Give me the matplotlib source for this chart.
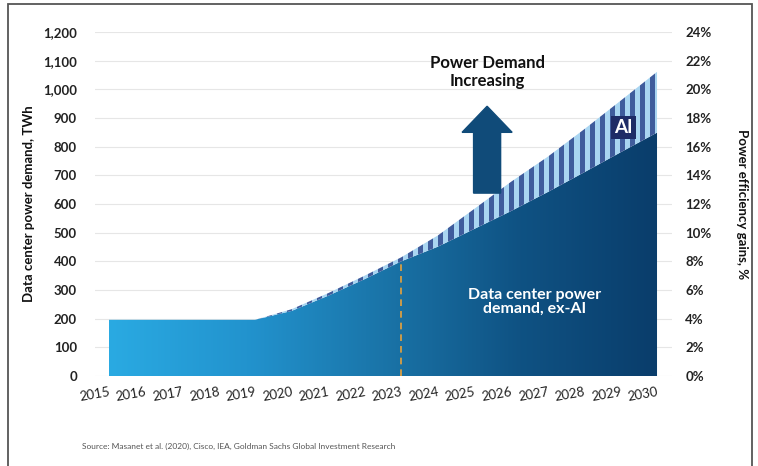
import numpy as np
import matplotlib
matplotlib.use("Agg")
import matplotlib.pyplot as plt
from matplotlib.colors import LinearSegmentedColormap, ListedColormap
from matplotlib.patches import Rectangle, FancyArrow

years = [2015, 2016, 2017, 2018, 2019, 2020, 2021, 2022,
         2023, 2024, 2025, 2026, 2027, 2028, 2029, 2030]
ex_ai = [196, 196, 196, 196, 196, 227, 280, 338,
         400, 451, 513, 575, 641, 710, 780, 849]
ai = [0, 0, 0, 0, 0, 6, 9, 12,
      14, 39, 70, 102, 123, 150, 180, 212]
left_ticks = [0, 100, 200, 300, 400, 500, 600, 700, 800, 900, 1000, 1100, 1200]
right_ticks = [0, 2, 4, 6, 8, 10, 12, 14, 16, 18, 20, 22, 24]
marker_year = 2023

plt.rcParams['font.family'] = ['Lato', 'DejaVu Sans']

W, H = 758, 466
fig = plt.figure(figsize=(W / 100, H / 100), dpi=100)
ax = fig.add_axes([95 / W, 1 - 376 / H, 577 / W, 344 / H])

x = np.array(years, dtype=float)
base = np.array(ex_ai, dtype=float)
total = base + np.array(ai, dtype=float)

ax.set_xlim(2014.62, 2030.41)
ax.set_ylim(0, 1200)
ax.set_axisbelow(True)
ax.yaxis.grid(True, color='#e6e6e6', lw=0.8, zorder=0)
ax.xaxis.grid(False)
for s in ax.spines.values():
    s.set_visible(False)

# gradient ex-AI area
grad_cmap = LinearSegmentedColormap.from_list(
    'g', ['#2AAAE2', '#2293CE', '#1A74A8', '#0F5283', '#0A3D6B'])
poly1 = ax.fill_between(x, 0, base, facecolor='none', edgecolor='none', zorder=2)
gimg = ax.imshow(np.linspace(0, 1, 256).reshape(1, -1), cmap=grad_cmap,
                 extent=[x[0], x[-1], 0, 1200], aspect='auto', zorder=2,
                 interpolation='bilinear')
gimg.set_clip_path(poly1.get_paths()[0], transform=ax.transData)

# striped AI area
poly2 = ax.fill_between(x, base, total, facecolor='none',
                        edgecolor='none', zorder=3)
period_px = 10.0
yr_px = 577 / (2030.41 - 2014.62)
n = int((x[-1] - x[0] + 1) * yr_px / (period_px / 2))
stripes = (np.arange(n) % 2).reshape(1, -1)
simg = ax.imshow(stripes, cmap=ListedColormap(['#A9D5F1', '#3F5C9C']),
                 extent=[x[0] - 0.5, x[-1] + 0.5, 0, 1200], aspect='auto',
                 zorder=3, interpolation='nearest')
simg.set_clip_path(poly2.get_paths()[0], transform=ax.transData)

# dashed marker line
mi = years.index(marker_year)
ax.plot([marker_year, marker_year], [0, ex_ai[mi]], color='#E9A23B',
        lw=1.2, ls=(0, (4, 3)), zorder=4)

# arrow
ax.add_patch(FancyArrow(2025.35, 638, 0, 303, width=0.74, head_width=1.37,
                        head_length=91, length_includes_head=True,
                        color='#104B79', zorder=5))
ax.text(2025.35, 1060, 'Power Demand\nIncreasing', ha='center', va='center',
        fontsize=12, fontweight='bold', color='#111111', linespacing=1.2)

ax.text(2029.08, 867, 'AI', ha='center', va='center', fontsize=13.5,
        fontweight='bold', color='white', zorder=6,
        bbox=dict(boxstyle='square,pad=0.18', fc='#1E2B66', ec='none'))
ax.text(2026.65, 258, 'Data center power\ndemand, ex-AI', ha='center',
        va='center', fontsize=11.5, fontweight='bold', color='white',
        linespacing=0.95, zorder=6)

# axes ticks
ax.set_xticks(years)
ax.set_xticklabels([str(y) for y in years], rotation=10, ha='right',
                   rotation_mode='anchor', fontsize=9.5, color='#222222')
ax.set_yticks(left_ticks)
ax.set_yticklabels([f'{v:,}' for v in left_ticks], fontsize=9.5,
                   fontweight='bold', color='#222222')
ax.tick_params(axis='both', length=0)
ax.tick_params(axis='x', pad=7)
ax.tick_params(axis='y', pad=13)
ax.set_ylabel('Data center power demand, TWh', fontsize=9.5, fontweight='bold',
              color='#111111', labelpad=6)

ax2 = ax.twinx()
ax2.set_ylim(0, 24)
ax2.set_yticks(right_ticks)
ax2.set_yticklabels([f'{v}%' for v in right_ticks], fontsize=9.5,
                    fontweight='bold', color='#222222')
ax2.tick_params(axis='y', length=0, pad=9.5)
for s in ax2.spines.values():
    s.set_visible(False)
ax2.set_ylabel('Power efficiency gains, %', fontsize=9.5, fontweight='bold',
               color='#111111', rotation=-90, labelpad=26)

fig.text(82 / W, 1 - 446 / H,
         'Source: Masanet et al. (2020), Cisco, IEA, Goldman Sachs Global Investment Research',
         fontsize=6, color='#555555', ha='left', va='center')

fig.add_artist(Rectangle((8 / W, -0.05), (752 - 8) / W, 1.05 - 4 / H,
                         transform=fig.transFigure, fill=False,
                         edgecolor='#555555', lw=1.3))

fig.savefig('out.png', dpi=100)
